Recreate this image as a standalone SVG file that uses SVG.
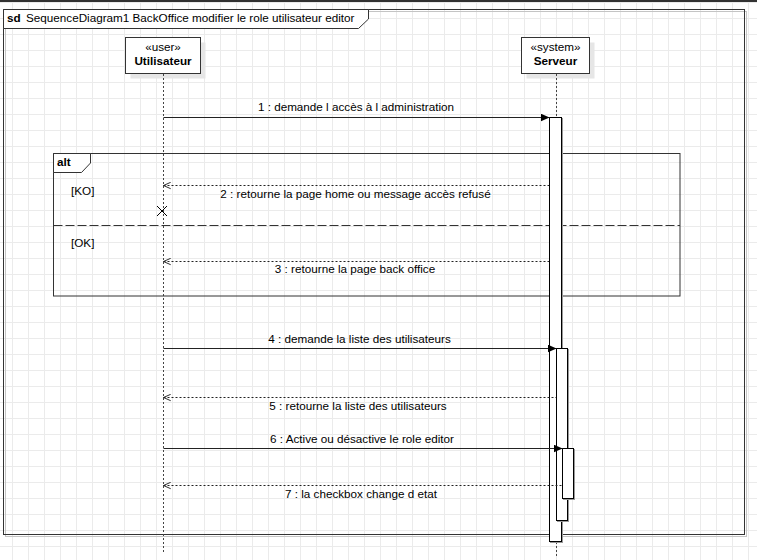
<svg xmlns="http://www.w3.org/2000/svg" width="757" height="560" viewBox="0 0 757 560">
<defs>
<style>
text{font-family:"Liberation Sans",Arial,sans-serif;font-size:11.7px;fill:#000}
.b{font-weight:bold}
.c{text-anchor:middle}
.frame{fill:none;stroke:#333;stroke-width:1}
.tab{fill:#fff;stroke:#333;stroke-width:1}
.life{stroke:#444;stroke-width:1;stroke-dasharray:2 2;fill:none}
.msg{stroke:#222;stroke-width:1;fill:none}
.ret{stroke:#222;stroke-width:1;fill:none;stroke-dasharray:2 2}
.box{fill:#fff;stroke:#333;stroke-width:1}
.shadow{fill:#e6e6e6;stroke:none}
.act{fill:#fff;stroke:#000;stroke-width:1}
.ashadow{fill:none;stroke:#999;stroke-width:1}
</style>
<pattern id="grid" x="12" y="2" width="16" height="16" patternUnits="userSpaceOnUse">
<path d="M0.5 0V16M0 0.5H16" stroke="#ebebeb" stroke-width="1" fill="none"/>
</pattern>
<marker id="filled" viewBox="0 0 10 10" refX="10" refY="5" markerWidth="9" markerHeight="8" markerUnits="userSpaceOnUse" orient="auto" preserveAspectRatio="none">
<path d="M0 0L10 5L0 10Z" fill="#000"/>
</marker>
<marker id="open" viewBox="0 0 10 10" refX="9" refY="5" markerWidth="8" markerHeight="8" markerUnits="userSpaceOnUse" orient="auto-start-reverse" preserveAspectRatio="none">
<path d="M0 1L9 5L0 9" fill="none" stroke="#222" stroke-width="1.2"/>
</marker>
</defs>
<rect width="757" height="560" fill="#fff"/>
<rect width="757" height="560" fill="url(#grid)"/>
<rect x="0" y="0" width="757" height="2" fill="#333"/>

<g id="frame-sd">
<rect x="5.5" y="11.5" width="741" height="525" fill="none" stroke="#c4c4c4" stroke-width="1"/>
<rect x="3.5" y="9.5" width="741" height="525" class="frame"/>
<path d="M3.5 9.5H368.5V19L358.5 28.5H3.5Z" class="tab"/>
<text x="7" y="22" class="b">sd</text>
<text x="26" y="22">SequenceDiagram1 BackOffice modifier le role utilisateur editor</text>
</g>

<g id="utilisateur">
<rect x="130.5" y="42.5" width="75" height="36" class="shadow"/>
<rect x="125.5" y="37.5" width="75" height="36" class="box"/>
<text x="163" y="51" class="c">«user»</text>
<text x="163" y="65" class="c b">Utilisateur</text>
<line x1="163.5" y1="74" x2="163.5" y2="552" class="life"/>
</g>

<g id="serveur">
<rect x="526.5" y="42.5" width="68" height="36" class="shadow"/>
<rect x="521.5" y="37.5" width="68" height="36" class="box"/>
<text x="555.5" y="51" class="c">«system»</text>
<text x="555.5" y="65" class="c b">Serveur</text>
<line x1="556.5" y1="74" x2="556.5" y2="117" class="life"/>
<line x1="556.5" y1="542" x2="556.5" y2="557" class="life"/>
</g>

<g id="alt-fragment">
<rect x="53.5" y="153.5" width="626.5" height="142.5" class="frame"/>
<path d="M53.5 153.5H90.5V163L81.5 172.5H53.5Z" class="tab"/>
<text x="57" y="166" class="b">alt</text>
<line x1="53.5" y1="225.5" x2="680" y2="225.5" stroke="#333" stroke-width="1" stroke-dasharray="9 3"/>
<text x="71" y="195">[KO]</text>
<text x="71" y="247">[OK]</text>
</g>

<g id="activations">
<rect x="550.5" y="118.5" width="12" height="424" class="ashadow"/>
<rect x="549.5" y="117.5" width="12" height="424" class="act"/>
<rect x="557.5" y="349.5" width="11" height="172" class="ashadow"/>
<rect x="556.5" y="348.5" width="11" height="172" class="act"/>
<rect x="563.5" y="449.5" width="11" height="50" class="ashadow"/>
<rect x="562.5" y="448.5" width="11" height="50" class="act"/>
</g>

<g id="destroy">
<path d="M157 206L167 216M167 206L157 216" stroke="#000" stroke-width="1"/>
</g>

<g id="connectors">
<line x1="163.5" y1="117.5" x2="549.5" y2="117.5" class="msg" marker-end="url(#filled)"/>
<text x="356" y="111" class="c">1 : demande l accès à l administration</text>

<line x1="163.5" y1="185.5" x2="549" y2="185.5" class="ret" marker-start="url(#open)"/>
<text x="355.5" y="198" class="c">2 : retourne la page home ou message accès refusé</text>

<line x1="163.5" y1="261.5" x2="549" y2="261.5" class="ret" marker-start="url(#open)"/>
<text x="355" y="273" class="c">3 : retourne la page back office</text>

<line x1="163.5" y1="348.5" x2="556.5" y2="348.5" class="msg" marker-end="url(#filled)"/>
<text x="359.5" y="343" class="c">4 : demande la liste des utilisateurs</text>

<line x1="163.5" y1="397.5" x2="556" y2="397.5" class="ret" marker-start="url(#open)"/>
<text x="358" y="410" class="c">5 : retourne la liste des utilisateurs</text>

<line x1="163.5" y1="448.5" x2="562.5" y2="448.5" class="msg" marker-end="url(#filled)"/>
<text x="362" y="443" class="c">6 : Active ou désactive le role editor</text>

<line x1="163.5" y1="485.5" x2="562" y2="485.5" class="ret" marker-start="url(#open)"/>
<text x="361" y="498" class="c">7 : la checkbox change d etat</text>
</g>
</svg>
